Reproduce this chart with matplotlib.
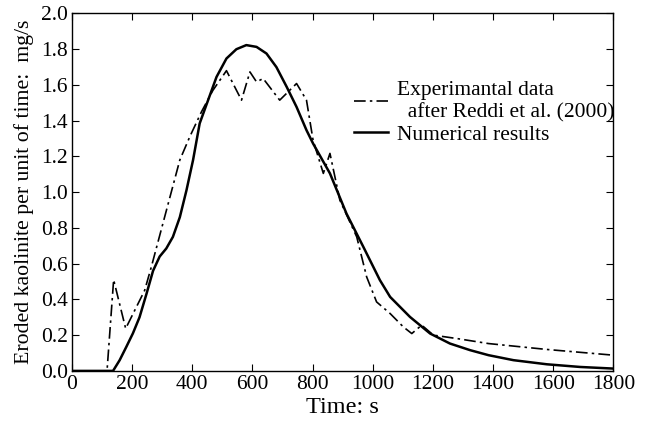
import matplotlib
matplotlib.use("Agg")
import matplotlib.pyplot as plt

plt.rcParams['font.family'] = ['Liberation Serif', 'DejaVu Serif']

# Experimental data (dash-dot), after Reddi et al. (2000)
exp_t = [0, 117, 139, 179, 242, 264, 359, 392, 431, 469, 514, 564, 592, 614, 636, 691,
         747, 780, 802, 836, 858, 891, 947, 980, 1013, 1058, 1102, 1130, 1163, 1202, 1280,
         1385, 1579, 1800]
exp_v = [0.0, 0.0, 0.51, 0.237, 0.45, 0.58, 1.18, 1.31, 1.45, 1.57, 1.68, 1.515, 1.673,
         1.617, 1.636, 1.515, 1.608, 1.515, 1.29, 1.105, 1.217, 0.955, 0.75, 0.526, 0.386,
         0.321, 0.246, 0.209, 0.256, 0.20, 0.181, 0.153, 0.12, 0.088]

# Numerical results (solid)
num_t = [0, 137, 159, 181, 203, 225, 248, 270, 292, 314, 336, 359, 381, 403, 425, 453,
         481, 514, 547, 580, 614, 647, 680, 714, 747, 780, 802, 858, 913, 969, 1024, 1058,
         1124, 1191, 1257, 1324, 1385, 1468, 1579, 1690, 1800]
num_v = [0.0, 0.0, 0.06, 0.134, 0.21, 0.30, 0.43, 0.56, 0.64, 0.685, 0.75, 0.86, 1.01, 1.18,
         1.385, 1.515, 1.645, 1.748, 1.80, 1.823, 1.813, 1.776, 1.70, 1.59, 1.477, 1.347,
         1.272, 1.105, 0.88, 0.694, 0.508, 0.414, 0.302, 0.209, 0.153, 0.116, 0.088, 0.06,
         0.037, 0.022, 0.013]

x_ticks = [0, 200, 400, 600, 800, 1000, 1200, 1400, 1600, 1800]
y_ticks = [0.0, 0.2, 0.4, 0.6, 0.8, 1.0, 1.2, 1.4, 1.6, 1.8, 2.0]

fig = plt.figure(figsize=(6.47, 4.21), dpi=100)
ax = fig.add_axes([0.111, 0.119, 0.837, 0.849])

ax.plot(exp_t, exp_v, color='black', lw=1.2, linestyle=(0, (7, 2.5, 1.5, 2.5)),
        label='Experimantal data\n  after Reddi et al. (2000)')
ax.plot(num_t, num_v, color='black', lw=1.8, label='Numerical results')

ax.set_xlim(0, 1800)
ax.set_ylim(0, 2.0)
ax.set_xticks(x_ticks)
ax.set_yticks(y_ticks)
ax.set_yticklabels([f"{v:.1f}" for v in y_ticks])
ax.tick_params(direction='in', top=True, right=True, labelsize=15.5, length=5, pad=3)
for s in ax.spines.values():
    s.set_linewidth(1.0)

ax.set_xlabel('Time: s', fontsize=17.5, labelpad=2)
ax.set_ylabel('Eroded kaolinite per unit of time:  mg/s', fontsize=15.7, labelpad=5)

leg = ax.legend(loc='upper left', bbox_to_anchor=(0.505, 0.835), frameon=False,
                fontsize=15.5, handlelength=1.6, handletextpad=0.4, labelspacing=0.1,
                borderaxespad=0)

fig.savefig('out.png', dpi=100)
